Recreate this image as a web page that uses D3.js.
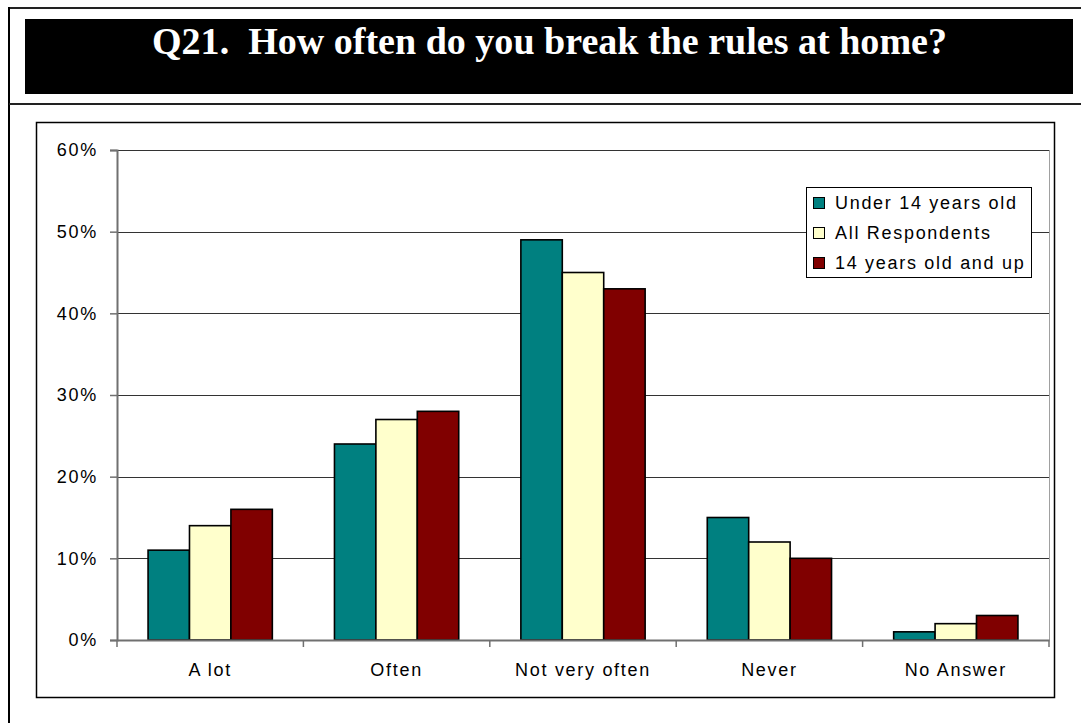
<!DOCTYPE html>
<html>
<head>
<meta charset="utf-8">
<script src="https://cdn.jsdelivr.net/npm/d3@7"></script>
<style>
  html, body { margin: 0; padding: 0; background: #fff; }
  svg { display: block; }
</style>
</head>
<body>
<svg id="chart" width="1081" height="723"></svg>
<script>
// Survey answers by age group (percent of respondents)
const categories = ["A lot", "Often", "Not very often", "Never", "No Answer"];
const seriesNames = ["Under 14 years old", "All Respondents", "14 years old and up"];
const under14 = [11, 24, 49, 15, 1];
const allRespondents = [14, 27, 45, 12, 2];
const over14 = [16, 28, 43, 10, 3];
const yTicks = [0, 10, 20, 30, 40, 50, 60];
const titleText = "Q21.  How often do you break the rules at home?";

const seriesValues = [under14, allRespondents, over14];
const colors = ["#008080", "#FFFFCC", "#800000"];

const svg = d3.select("#chart");
const font = "'Liberation Sans', Arial, sans-serif";
const fontSize = 18;
const spacing = "1.7px";

// Page frame
svg.append("line").attr("x1", 9).attr("x2", 1081).attr("y1", 8).attr("y2", 8)
  .attr("stroke", "#222").attr("stroke-width", 2);
svg.append("line").attr("x1", 9).attr("x2", 9).attr("y1", 7).attr("y2", 723)
  .attr("stroke", "#000").attr("stroke-width", 2);
svg.append("line").attr("x1", 9).attr("x2", 1081).attr("y1", 104).attr("y2", 104)
  .attr("stroke", "#222").attr("stroke-width", 2);

// Title banner
svg.append("rect").attr("x", 25).attr("y", 19).attr("width", 1048).attr("height", 75)
  .attr("fill", "#000");
svg.append("text")
  .attr("x", 549.5).attr("y", 54)
  .attr("text-anchor", "middle")
  .attr("fill", "#fff")
  .attr("font-family", "'Liberation Serif', 'Times New Roman', serif")
  .attr("font-weight", "bold")
  .attr("font-size", 37)
  .attr("textLength", 795)
  .attr("lengthAdjust", "spacingAndGlyphs")
  .style("white-space", "pre")
  .text(titleText);

// Chart box
svg.append("rect").attr("x", 36.5).attr("y", 122.5).attr("width", 1018).attr("height", 575)
  .attr("fill", "#fff").attr("stroke", "#000").attr("stroke-width", 1.5);

// Plot area
const plot = { left: 117, right: 1049, top: 150, bottom: 640 };

const x0 = d3.scaleBand().domain(categories).range([plot.left, plot.right])
  .paddingInner(0).paddingOuter(0);
const x1 = d3.scaleBand().domain(seriesNames).range([0, x0.bandwidth()])
  .paddingInner(0).paddingOuter(0.75);
const y = d3.scaleLinear().domain([0, 60]).range([plot.bottom, plot.top]);

const g = svg.append("g");

// Horizontal gridlines
g.selectAll("line.grid").data(yTicks.filter(d => d > 0)).join("line")
  .attr("class", "grid")
  .attr("x1", plot.left).attr("x2", plot.right)
  .attr("y1", d => Math.round(y(d)) + 0.5).attr("y2", d => Math.round(y(d)) + 0.5)
  .attr("stroke", "#333").attr("stroke-width", 1);

// Right edge of plot area
g.append("line").attr("x1", plot.right + 0.5).attr("x2", plot.right + 0.5)
  .attr("y1", plot.top).attr("y2", plot.bottom)
  .attr("stroke", "#a0a0a0").attr("stroke-width", 1);

// Bars
const groups = g.selectAll("g.cat").data(categories).join("g")
  .attr("class", "cat")
  .attr("transform", d => `translate(${x0(d)},0)`);

groups.selectAll("rect").data((c, i) => seriesNames.map((s, k) => ({ s, k, v: seriesValues[k][i] })))
  .join("rect")
  .attr("x", d => x1(d.s))
  .attr("y", d => y(d.v))
  .attr("width", x1.bandwidth())
  .attr("height", d => y(0) - y(d.v))
  .attr("fill", d => colors[d.k])
  .attr("stroke", "#000")
  .attr("stroke-width", 1.6);

// Y axis
const yAxis = d3.axisLeft(y).tickValues(yTicks).tickFormat(d => d + "%").tickSize(7).tickPadding(12);
const yg = svg.append("g").attr("transform", `translate(${plot.left},0)`).call(yAxis);
yg.select(".domain").attr("stroke", "#707070").attr("stroke-width", 2);
yg.selectAll(".tick line").attr("stroke", "#707070").attr("stroke-width", 1.5);
yg.selectAll(".tick text").attr("font-family", font).attr("font-size", fontSize)
  .attr("letter-spacing", spacing).attr("fill", "#000");

// X axis
const xAxis = d3.axisBottom(x0).tickSize(0).tickPadding(0);
const xg = svg.append("g").attr("transform", `translate(0,${plot.bottom})`).call(xAxis);
xg.select(".domain").attr("stroke", "#707070").attr("stroke-width", 2);
xg.selectAll(".tick text").attr("font-family", font).attr("font-size", fontSize)
  .attr("letter-spacing", spacing).attr("fill", "#000")
  .attr("dy", 0).attr("y", 36);
// Category separator ticks
const bounds = categories.map(c => x0(c)).concat([plot.right]);
xg.selectAll("line.sep").data(bounds).join("line")
  .attr("class", "sep")
  .attr("x1", d => d).attr("x2", d => d)
  .attr("y1", 0).attr("y2", 7)
  .attr("stroke", "#707070").attr("stroke-width", 1.5);

// Legend
const leg = svg.append("g").attr("transform", "translate(806,187)");
leg.append("rect").attr("x", 0.5).attr("y", 0.5).attr("width", 225).attr("height", 90)
  .attr("fill", "#fff").attr("stroke", "#000").attr("stroke-width", 1);
const items = leg.selectAll("g.item").data(seriesNames).join("g")
  .attr("class", "item")
  .attr("transform", (d, i) => `translate(0,${16 + i * 30})`);
items.append("rect").attr("x", 7.5).attr("y", -5.5).attr("width", 11).attr("height", 11)
  .attr("fill", (d, i) => colors[i]).attr("stroke", "#000").attr("stroke-width", 1);
items.append("text").attr("x", 29).attr("y", 0).attr("dy", "0.35em")
  .attr("font-family", font).attr("font-size", fontSize).attr("letter-spacing", spacing)
  .attr("fill", "#000")
  .text(d => d);
</script>
</body>
</html>
